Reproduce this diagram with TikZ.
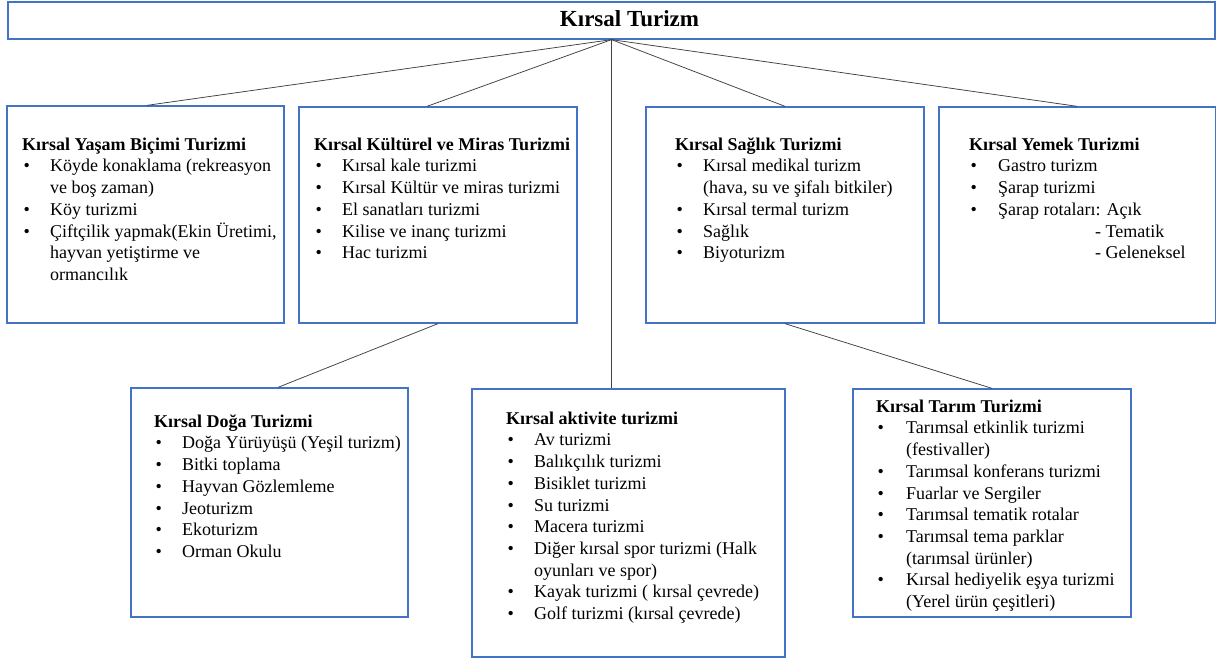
\documentclass[tikz,border=0pt]{standalone}
\usepackage{fontspec}
\setmainfont{Liberation Serif}
\definecolor{boxblue}{HTML}{4472C4}
\definecolor{linegray}{HTML}{404040}
\newcommand\bul[1][28pt]{\makebox[#1][l]{\hspace{1.5pt}•}}
\newcommand\cnt[1][28pt]{\hspace*{#1}}
\newcommand\hstrut{\rule{0pt}{14pt}}
\begin{document}
\begin{tikzpicture}[x=1pt,y=-1pt,
  box/.style={draw=boxblue, line width=1.3pt, inner sep=0pt, fill=white},
  conn/.style={draw=linegray, line width=0.75pt},
  txt/.style={anchor=north west, inner sep=0pt, align=left, font=\fontsize{18}{21.7}\selectfont}]
\useasboundingbox[fill=white] (0,0) rectangle (1217,660);

% boxes
\node[box, minimum width=1207pt, minimum height=37pt] (title) at (611.5,20.5) {};
\node[anchor=base, inner sep=0pt, font=\fontsize{23}{27}\selectfont\bfseries] (titletext) at (629.5,26.5) {Kırsal Turizm};
\node[box, minimum width=277pt, minimum height=217pt] (b1) at (145.5,214.5) {};
\node[box, minimum width=278pt, minimum height=216pt] (b2) at (438,215) {};
\node[box, minimum width=278pt, minimum height=216pt] (b3) at (785,215) {};
\node[box, minimum width=276.5pt, minimum height=216pt] (b4) at (1077.25,215) {};
\node[box, minimum width=277pt, minimum height=229pt] (b5) at (269.5,502.5) {};
\node[box, minimum width=313pt, minimum height=268pt] (b6) at (628.5,523) {};
\node[box, minimum width=278pt, minimum height=228pt] (b7) at (992,503) {};

% connectors
\draw[conn] (title.south) -- ([xshift=1.5pt]b1.north);
\draw[conn] (title.south) -- ([xshift=-11pt]b2.north);
\draw[conn] (title.south) -- (title.south |- b6.north);
\draw[conn] (title.south) -- (b3.north);
\draw[conn] (title.south) -- (b4.north);
\draw[conn] (b2.south) -- ([xshift=8.5pt]b5.north);
\draw[conn] (b3.south) -- (b7.north);

% texts
\node[txt] (t1) at (22,136) {\hstrut\textbf{Kırsal Yaşam Biçimi Turizmi}\\
\bul Köyde konaklama (rekreasyon\\
\cnt ve boş zaman)\\
\bul Köy turizmi\\
\bul Çiftçilik yapmak(Ekin Üretimi,\\
\cnt hayvan yetiştirme ve\\
\cnt ormancılık};

\node[txt] (t2) at (314,136) {\hstrut\textbf{Kırsal Kültürel ve Miras Turizmi}\\
\bul Kırsal kale turizmi\\
\bul Kırsal Kültür ve miras turizmi\\
\bul El sanatları turizmi\\
\bul Kilise ve inanç turizmi\\
\bul Hac turizmi};

\node[txt] (t3) at (675,136) {\hstrut\textbf{Kırsal Sağlık Turizmi}\\
\bul Kırsal medikal turizm\\
\cnt (hava, su ve şifalı bitkiler)\\
\bul Kırsal termal turizm\\
\bul Sağlık\\
\bul Biyoturizm};

\node[txt] (t4) at (969,136) {\hstrut\textbf{Kırsal Yemek Turizmi}\\
\bul[29pt]Gastro turizm\\
\bul[29pt]Şarap turizmi\\
\bul[29pt]Şarap rotaları: Açık\\
\cnt[126pt]- Tematik\\
\cnt[126pt]- Geleneksel};

\node[txt] (t5) at (154,413) {\hstrut\textbf{Kırsal Doğa Turizmi}\\
\bul Doğa Yürüyüşü (Yeşil turizm)\\
\bul Bitki toplama\\
\bul Hayvan Gözlemleme\\
\bul Jeoturizm\\
\bul Ekoturizm\\
\bul Orman Okulu};

\node[txt] (t6) at (506,410) {\hstrut\textbf{Kırsal aktivite turizmi}\\
\bul Av turizmi\\
\bul Balıkçılık turizmi\\
\bul Bisiklet turizmi\\
\bul Su turizmi\\
\bul Macera turizmi\\
\bul Diğer kırsal spor turizmi (Halk\\
\cnt oyunları ve spor)\\
\bul Kayak turizmi ( kırsal çevrede)\\
\bul Golf turizmi (kırsal çevrede)};

\node[txt] (t7) at (876,398) {\hstrut\textbf{Kırsal Tarım Turizmi}\\
\bul[30pt]Tarımsal etkinlik turizmi\\
\cnt[30pt](festivaller)\\
\bul[30pt]Tarımsal konferans turizmi\\
\bul[30pt]Fuarlar ve Sergiler\\
\bul[30pt]Tarımsal tematik rotalar\\
\bul[30pt]Tarımsal tema parklar\\
\cnt[30pt](tarımsal ürünler)\\
\bul[30pt]Kırsal hediyelik eşya turizmi\\
\cnt[30pt](Yerel ürün çeşitleri)};
\end{tikzpicture}
\end{document}
